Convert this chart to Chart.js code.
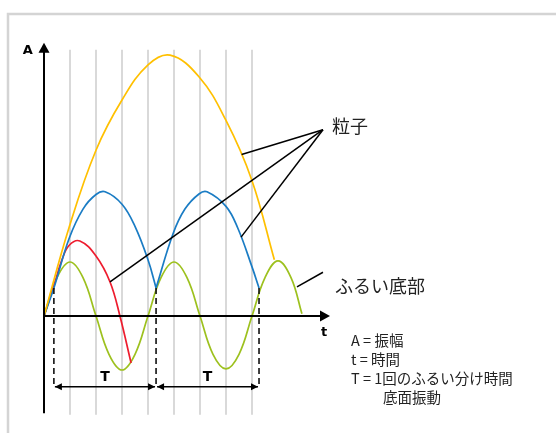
<!DOCTYPE html>
<html lang="ja">
<head>
<meta charset="utf-8">
<script src="https://cdn.jsdelivr.net/npm/chart.js@4"></script>
<style>
html,body{margin:0;padding:0;background:#fff;}
canvas{display:block;}
</style>
</head>
<body>
<canvas id="c" width="556" height="433"></canvas>
<script>
// time in quarter periods of the base (T/4), amplitude in units of the base amplitude
const tBase=[0,0.5,1,1.5,2,2.5,3,3.5,4,4.5,5,5.5,6,6.5,7,7.5,8,8.5,9,9.5,9.92];
const aBase=[0,0.71,1,0.71,0,-0.71,-1,-0.71,0,0.71,1,0.71,0,-0.71,-0.98,-0.71,0,0.71,1.02,0.71,0.04];

const tRed=[0,0.38,0.69,0.97,1.38,2,2.54,2.92,3.35];
const aRed=[0,0.56,1.04,1.31,1.39,1.11,0.63,0,-0.87];

const tBlue1=[0,0.38,0.97,1.5,2,2.35,3,3.5,4,4.31];
const aBlue1=[0,0.52,1.44,1.98,2.25,2.3,2.07,1.66,1.04,0.52];
const tBlue2=[4.31,4.96,5.42,5.96,6.27,7.0,7.46,8.0,8.27];
const aBlue2=[0.52,1.52,1.98,2.26,2.3,2.03,1.62,0.91,0.52];

const tYellow=[0,0.97,2,3,4,4.85,5.96,6.99,7.99,8.86];
const aYellow=[0,1.65,3.07,4.0,4.65,4.83,4.43,3.63,2.52,1.04];

const gridT=[1,2,3,4,5,6,7,8];
const launchT=[0.38,4.31,8.27];
const launchA=0.52;

const axisLabels={y:"A",x:"t",period:"T"};
const particleLabel="粒子";
const baseLabel="ふるい底部";
const legendLines=["A = 振幅","t = 時間","T = 1回のふるい分け時間","底面振動"];

// pointer line ends, same units as the data
const particleApex=[10.73,3.45];
const particleTargets=[[7.6,2.99],[2.54,0.63],[7.58,1.46]];
const basePointer=[[9.73,0.54],[10.73,0.81]];

const zip=(t,a)=>t.map((v,i)=>({x:v,y:a[i]}));
const line=(data,color)=>({data,borderColor:color,borderWidth:1.7,pointRadius:0,fill:false,tension:0.4,clip:false});

const JP="'Noto Sans CJK JP','Noto Sans',sans-serif";
const BOLD="bold 13px 'DejaVu Sans','Liberation Sans',sans-serif";

function arrowHead(ctx,x,y,dx,dy,len,half){
  // tip at (x,y), pointing along (dx,dy)
  const bx=x-dx*len, by=y-dy*len;
  ctx.beginPath();
  ctx.moveTo(x,y);
  ctx.lineTo(bx-dy*half,by+dx*half);
  ctx.lineTo(bx+dy*half,by-dx*half);
  ctx.closePath(); ctx.fill();
}

const decor={
  id:"decor",
  beforeDraw(chart){
    const ctx=chart.ctx;
    ctx.save();
    ctx.fillStyle="#fff"; ctx.fillRect(0,0,chart.width,chart.height);
    ctx.strokeStyle="#d4d4d4"; ctx.lineWidth=2.5;
    ctx.beginPath(); ctx.moveTo(8,chart.height); ctx.lineTo(8,14); ctx.lineTo(chart.width,14); ctx.stroke();
    ctx.restore();
  },
  beforeDatasetsDraw(chart){
    const {ctx,scales:{x,y}}=chart;
    ctx.save();
    ctx.strokeStyle="#d9d9d9"; ctx.lineWidth=2;
    gridT.forEach(t=>{
      const px=x.getPixelForValue(t);
      ctx.beginPath(); ctx.moveTo(px,y.getPixelForValue(4.93)); ctx.lineTo(px,y.getPixelForValue(-1.83)); ctx.stroke();
    });
    ctx.restore();
  },
  afterDatasetsDraw(chart){
    const {ctx,scales:{x,y}}=chart;
    const X=v=>x.getPixelForValue(v), Y=v=>y.getPixelForValue(v);
    ctx.save();
    ctx.strokeStyle="#000"; ctx.fillStyle="#000";

    // axes
    ctx.lineWidth=2;
    ctx.beginPath(); ctx.moveTo(X(0),Y(-1.8)); ctx.lineTo(X(0),Y(4.9)); ctx.stroke();
    arrowHead(ctx,X(0),Y(5.06),0,-1,10,5.5);
    ctx.beginPath(); ctx.moveTo(X(0),Y(0)); ctx.lineTo(X(10.85),Y(0)); ctx.stroke();
    arrowHead(ctx,X(11.0),Y(0),1,0,10,5.5);

    // launch markers
    ctx.strokeStyle="#111"; ctx.lineWidth=1.6; ctx.setLineDash([6,4]);
    launchT.forEach(t=>{
      ctx.beginPath(); ctx.moveTo(X(t),Y(launchA)); ctx.lineTo(X(t),Y(-1.29)); ctx.stroke();
    });
    ctx.setLineDash([]);

    // period dimensions
    ctx.strokeStyle="#000"; ctx.lineWidth=1.5;
    const dimY=Y(-1.31);
    for(let i=0;i<launchT.length-1;i++){
      const a=X(launchT[i])+1, b=X(launchT[i+1])-1;
      ctx.beginPath(); ctx.moveTo(a,dimY); ctx.lineTo(b,dimY); ctx.stroke();
      arrowHead(ctx,a,dimY,-1,0,7,3.5);
      arrowHead(ctx,b,dimY,1,0,7,3.5);
      ctx.font="bold 14px 'DejaVu Sans','Liberation Sans',sans-serif";
      ctx.textAlign="center"; ctx.textBaseline="middle";
      ctx.fillText(axisLabels.period,(a+b)/2,Y(-1.13));
    }

    // pointers
    ctx.lineWidth=1.5;
    particleTargets.forEach(p=>{
      ctx.beginPath(); ctx.moveTo(X(particleApex[0]),Y(particleApex[1])); ctx.lineTo(X(p[0]),Y(p[1])); ctx.stroke();
    });
    ctx.beginPath(); ctx.moveTo(X(basePointer[0][0]),Y(basePointer[0][1])); ctx.lineTo(X(basePointer[1][0]),Y(basePointer[1][1])); ctx.stroke();

    // labels
    ctx.font=BOLD; ctx.textAlign="center"; ctx.textBaseline="middle";
    ctx.fillText(axisLabels.y,X(-0.62),Y(4.92));
    ctx.fillText(axisLabels.x,X(10.77),Y(-0.31));

    ctx.fillStyle="#222"; ctx.textAlign="left";
    ctx.font="18px "+JP;
    ctx.fillText(particleLabel,X(11.08),Y(3.52));
    ctx.fillText(baseLabel,X(11.19),Y(0.56));

    ctx.font="14.5px "+JP;
    const legendA=[-0.46,-0.81,-1.15,-1.5];
    legendLines.forEach((s,i)=>{
      const lx=i===3?X(13.04):X(11.81);
      ctx.fillText(s,lx,Y(legendA[i]));
    });
    ctx.restore();
  }
};

new Chart(document.getElementById("c"),{
  type:"line",
  data:{datasets:[
    line(zip(tYellow,aYellow),"#FFC000"),
    line(zip(tBlue1,aBlue1),"#1A7CC4"),
    line(zip(tBlue2,aBlue2),"#1A7CC4"),
    line(zip(tRed,aRed),"#EE1C2E"),
    line(zip(tBase,aBase),"#9DC11E")
  ]},
  options:{
    responsive:false, animation:false, devicePixelRatio:1,
    layout:{padding:{left:18,right:200,top:19,bottom:9}},
    scales:{
      x:{type:"linear",min:-1,max:12,display:false},
      y:{type:"linear",min:-2,max:5.5,display:false}
    },
    plugins:{legend:{display:false},tooltip:{enabled:false}}
  },
  plugins:[decor]
});
</script>
</body>
</html>
